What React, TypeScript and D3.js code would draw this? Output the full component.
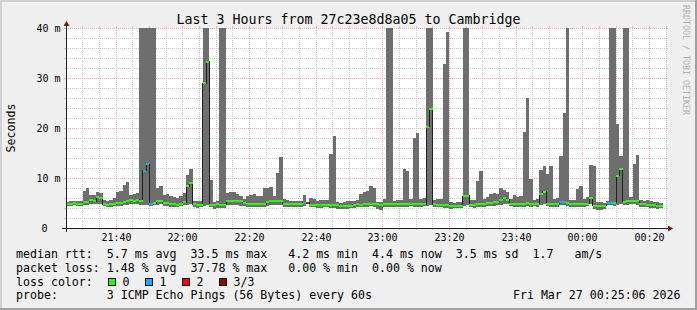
import React from "react";
import * as d3 from "d3";

const titleText = "Last 3 Hours from 27c23e8d8a05 to Cambridge";
const yAxisTitle = "Seconds";
const watermark = "RRDTOOL / TOBI OETIKER";
const startTime = new Date(2026, 2, 26, 21, 25, 6);
const endTime = new Date(2026, 2, 27, 0, 25, 6);
const sampleStepSec = 60;

// median round trip time per minute (ms)
const medianMs = [
  5.0, 5.0, 5.1, 5.0, 5.0, 5.3, 5.4, 5.7, 5.5, 6.3,
  6.2, 4.9, 4.8, 4.9, 4.9, 5.1, 5.2, 5.3, 5.6, 5.7,
  5.6, 5.8, 5.6, 11.6, 12.9, 5.0, 5.1, 5.6, 5.6, 5.1,
  5.1, 4.9, 4.9, 4.8, 4.9, 5.3, 8.5, 9.1, 4.9, 4.8,
  4.8, 29.1, 33.4, 4.8, 4.8, 4.9, 4.8, 4.7, 5.5, 5.6,
  5.6, 5.5, 5.5, 5.2, 5.0, 4.9, 4.9, 5.0, 4.9, 4.9,
  5.4, 5.6, 5.6, 5.6, 5.6, 5.0, 4.9, 4.9, 4.9, 4.9,
  4.9, 5.2, 5.2, 4.8, 4.8, 4.7, 4.7, 4.8, 4.8, 4.7,
  4.8, 4.7, 4.6, 4.6, 4.6, 4.6, 4.8, 4.9, 4.8, 4.9,
  5.0, 5.0, 5.0, 4.9, 4.8, 4.9, 4.9, 4.9, 4.9, 4.9,
  4.9, 4.9, 4.9, 4.9, 4.9, 4.9, 4.9, 4.9, 20.4, 23.9,
  4.9, 4.8, 4.8, 4.7, 4.7, 4.6, 4.6, 4.6, 4.6, 6.5,
  6.6, 4.8, 4.8, 4.9, 4.9, 5.0, 5.1, 5.2, 5.3, 5.4,
  5.8, 6.1, 5.7, 5.0, 5.0, 4.9, 4.9, 5.0, 5.1, 5.0,
  5.0, 5.0, 7.0, 7.4, 5.0, 4.9, 4.9, 5.0, 5.3, 5.3,
  5.1, 4.9, 4.9, 4.9, 5.0, 5.0, 5.0, 6.1, 4.6, 4.6,
  4.6, 4.6, 5.2, 5.2, 5.2, 10.6, 11.9, 5.4, 5.5, 5.6,
  5.6, 5.5, 5.0, 4.9, 4.8, 4.8, 4.7, 4.6, 4.6, NaN,
];

// fastest ping per minute (ms)
const minMs = [
  4.6, 4.6, 4.7, 4.6, 4.5, 4.7, 4.8, 5.0, 4.9, 5.0,
  5.0, 4.5, 4.3, 4.4, 4.5, 4.6, 4.6, 4.7, 4.8, 4.9,
  4.9, 5.0, 4.8, 4.7, 4.8, 4.6, 4.7, 4.8, 4.9, 4.6,
  4.5, 4.4, 4.3, 4.4, 4.5, 4.7, 4.8, 5.0, 4.3, 4.2,
  4.4, 4.6, 4.8, 4.3, 4.0, 4.1, 4.2, 4.2, 4.7, 4.7,
  4.8, 4.7, 4.6, 4.5, 4.4, 4.3, 4.3, 4.4, 4.3, 4.4,
  4.6, 4.7, 4.8, 4.8, 4.8, 4.4, 4.4, 4.3, 4.3, 4.4,
  4.4, 4.6, 5.0, 4.3, 4.3, 4.2, 4.2, 4.3, 4.3, 4.2,
  4.2, 4.0, 3.9, 3.9, 4.0, 4.1, 4.2, 4.3, 4.3, 4.3,
  4.4, 4.5, 4.4, 3.9, 3.8, 4.4, 4.4, 4.4, 4.4, 4.3,
  4.4, 4.4, 4.4, 4.5, 4.4, 4.4, 4.4, 4.5, 4.6, 4.7,
  4.4, 4.3, 4.3, 4.2, 4.1, 4.0, 4.1, 4.1, 4.1, 4.6,
  4.7, 4.3, 4.2, 4.3, 4.4, 4.4, 4.5, 4.6, 4.6, 4.7,
  4.8, 5.0, 4.9, 4.5, 4.4, 4.3, 4.3, 4.4, 4.5, 4.4,
  4.5, 4.4, 4.8, 5.0, 4.5, 4.4, 4.4, 4.4, 4.7, 4.8,
  4.5, 4.3, 4.3, 4.3, 4.4, 4.4, 4.5, 5.0, 4.0, 3.8,
  3.8, 3.9, 4.8, 4.8, 4.6, 4.8, 5.0, 4.8, 4.8, 4.9,
  4.9, 4.8, 4.4, 4.3, 4.3, 4.2, 4.2, 4.0, 4.1, NaN,
];

// slowest ping per minute (ms); 60 = beyond the top of the chart
const maxMs = [
  5.4, 5.5, 5.6, 5.5, 5.6, 7.6, 8.1, 6.7, 6.8, 7.3,
  7.2, 5.8, 5.6, 5.7, 6.2, 7.4, 7.6, 8.8, 9.4, 6.8,
  7.0, 7.2, 60, 60, 60, 60, 60, 8.1, 8.5, 6.8,
  6.9, 6.6, 6.4, 6.2, 6.5, 7.2, 10.8, 11.9, 5.6, 5.5,
  5.6, 60, 60, 9.8, 5.4, 5.5, 60, 60, 7.2, 7.4,
  7.3, 7.0, 6.6, 6.0, 6.5, 6.8, 6.9, 6.5, 6.6, 8.1,
  8.1, 8.4, 6.5, 11.1, 14.3, 6.0, 5.8, 5.6, 5.5, 5.6,
  5.6, 6.7, 5.4, 6.2, 6.0, 5.6, 5.7, 5.8, 5.7, 14.9,
  18.5, 5.4, 5.2, 5.3, 5.6, 5.5, 5.6, 5.7, 7.0, 7.3,
  7.5, 8.5, 8.2, 5.4, 5.3, 5.9, 60, 60, 5.6, 5.8,
  5.7, 11.9, 11.6, 5.9, 18.2, 19.2, 6.0, 6.2, 60, 60,
  5.8, 6.0, 5.9, 33.0, 39.3, 5.3, 5.2, 5.3, 5.4, 60,
  60, 5.8, 5.7, 9.6, 11.5, 5.9, 6.3, 6.9, 7.1, 7.0,
  8.2, 7.7, 7.3, 5.9, 6.7, 6.4, 6.5, 19.3, 26.1, 10.0,
  5.8, 5.9, 11.7, 12.5, 10.9, 12.5, 6.0, 6.2, 14.5, 23.1,
  60, 5.7, 5.8, 8.0, 8.5, 5.9, 6.3, 12.7, 12.5, 5.4,
  5.3, 5.2, 5.6, 60, 60, 21.0, 14.5, 60, 60, 6.3,
  13.0, 14.7, 5.8, 5.6, 5.7, 5.5, 5.4, 5.3, 5.2, NaN,
];

// lost pings (of 3) per minute
const lostPings = [
  0, 0, 0, 0, 0, 0, 0, 0, 0, 0,
  0, 0, 0, 0, 0, 0, 0, 0, 0, 0,
  0, 0, 0, 1, 1, 1, 0, 0, 0, 0,
  0, 0, 0, 0, 0, 0, 0, 0, 0, 0,
  0, 0, 0, 0, 0, 0, 0, 0, 0, 0,
  0, 0, 0, 0, 0, 0, 0, 0, 0, 0,
  0, 0, 0, 0, 0, 0, 0, 0, 0, 0,
  0, 1, 2, 0, 0, 0, 0, 0, 0, 0,
  0, 0, 0, 0, 0, 0, 0, 0, 0, 0,
  0, 0, 0, 0, 0, 0, 0, 0, 0, 0,
  0, 0, 0, 0, 0, 0, 0, 0, 0, 0,
  0, 0, 0, 0, 0, 0, 0, 0, 0, 0,
  0, 0, 0, 0, 0, 0, 0, 0, 0, 0,
  0, 0, 0, 0, 0, 0, 0, 0, 0, 0,
  0, 0, 0, 0, 0, 0, 0, 0, 1, 1,
  0, 0, 0, 0, 0, 0, 0, 0, 0, 0,
  0, 0, 1, 1, 0, 0, 0, 0, 0, 0,
  0, 0, 0, 0, 0, 0, 0, 0, 0, 0,
];

const yTickValues = [0, 10, 20, 30, 40];
const yTickLabels = ["0", "10 m", "20 m", "30 m", "40 m"];
const xTickLabels = ["21:40", "22:00", "22:20", "22:40", "23:00", "23:20", "23:40", "00:00", "00:20"];

const lossLabels = ["0", "1", "2", "3/3"];
const lossColors = ["#26ff00", "#00b8ff", "#ff0000", "#990000"];

const legendRtt = "median rtt:  5.7 ms avg  33.5 ms max   4.2 ms min  4.4 ms now  3.5 ms sd  1.7   am/s";
const legendLoss = "packet loss: 1.48 % avg  37.78 % max   0.00 % min  0.00 % now";
const legendLossColor = "loss color:";
const legendProbe = "probe:       3 ICMP Echo Pings (56 Bytes) every 60s";
const timestamp = "Fri Mar 27 00:25:06 2026";

function tickTime(label: string): Date {
  const [h, m] = label.split(":").map(Number);
  return h < 12 ? new Date(2026, 2, 27, h, m, 0) : new Date(2026, 2, 26, h, m, 0);
}

export default function App() {
  const W = 697, H = 310;
  const X0 = 66, X1 = 666, Y0 = 228, Y1 = 28;
  const mono = "'DejaVu Sans Mono', monospace";
  const x = d3.scaleTime().domain([startTime, endTime]).range([X0, X1]);
  const y = d3.scaleLinear().domain([0, 40]).range([Y0 + 0.5, Y1 + 0.5]);
  const snap = (v: number) => Math.round(v) + 0.5;

  const samples = medianMs
    .map((m, i) => {
      const t0 = new Date(startTime.getTime() + i * sampleStepSec * 1000);
      const t1 = new Date(t0.getTime() + sampleStepSec * 1000);
      return { t0, t1, med: m, lo: minMs[i], hi: maxMs[i], loss: lostPings[i] };
    })
    .filter((d) => Number.isFinite(d.med));

  const minorY = d3.range(2, 41, 2).filter((v) => v % 10 !== 0);
  const majorY = yTickValues.filter((v) => v > 0);
  const majorX = xTickLabels.map(tickTime);
  const minorX = d3
    .timeMinute.every(5)!
    .range(startTime, endTime)
    .filter((t) => t.getMinutes() % 20 !== 0);

  const linePts: [number, number][] = samples.map((d) => [x(d.t0), Math.floor(y(d.med)) + 0.5]);
  const last = samples[samples.length - 1];
  linePts.push([x(last.t1), Math.floor(y(last.med)) + 0.5]);
  const medianLine = d3.line().curve(d3.curveStepAfter)(linePts) || "";

  const gridColor = "#c8c8c8";
  const mgridColor = "#f0a8a8";

  return (
    <svg
      width={W}
      height={H}
      viewBox={`0 0 ${W} ${H}`}
      style={{ position: "absolute", left: 0, top: 0, display: "block" }}
    >
      <defs>
        <clipPath id="plotClip">
          <rect x={X0} y={Y1} width={X1 - X0} height={Y0 - Y1 + 1} />
        </clipPath>
      </defs>
      {/* background and frame */}
      <rect x={0} y={0} width={W} height={H} fill="#f0f0f0" />
      <rect x={0} y={0} width={W} height={2} fill="#d0d0d0" />
      <rect x={0} y={0} width={2} height={H} fill="#d0d0d0" />
      <rect x={0} y={H - 2} width={W} height={2} fill="#a0a0a0" />
      <rect x={W - 2} y={0} width={2} height={H} fill="#a0a0a0" />
      <rect x={X0} y={Y1} width={X1 - X0} height={Y0 - Y1} fill="#ffffff" />

      {/* grid */}
      <g shapeRendering="crispEdges">
        {minorY.map((v) => (
          <g key={"my" + v}>
            <line x1={X0} x2={X1} y1={y(v)} y2={y(v)} stroke={gridColor} strokeDasharray="1 1" />
            <line x1={X0 - 2} x2={X0} y1={y(v)} y2={y(v)} stroke={gridColor} />
            <line x1={X1} x2={X1 + 2} y1={y(v)} y2={y(v)} stroke={gridColor} />
          </g>
        ))}
        {minorX.map((t) => (
          <g key={"mx" + t.getTime()}>
            <line x1={snap(x(t))} x2={snap(x(t))} y1={Y1} y2={Y0} stroke={gridColor} strokeDasharray="1 1" />
            <line x1={snap(x(t))} x2={snap(x(t))} y1={Y0} y2={Y0 + 2} stroke={gridColor} />
            <line x1={snap(x(t))} x2={snap(x(t))} y1={Y1 - 2} y2={Y1} stroke={gridColor} />
          </g>
        ))}
        {majorY.map((v) => (
          <g key={"My" + v}>
            <line x1={X0} x2={X1} y1={y(v)} y2={y(v)} stroke={mgridColor} strokeDasharray="1 1" />
            <line x1={X0 - 2} x2={X0} y1={y(v)} y2={y(v)} stroke={mgridColor} />
            <line x1={X1} x2={X1 + 2} y1={y(v)} y2={y(v)} stroke={mgridColor} />
          </g>
        ))}
        {majorX.map((t) => (
          <g key={"Mx" + t.getTime()}>
            <line x1={snap(x(t))} x2={snap(x(t))} y1={Y1} y2={Y0} stroke={mgridColor} strokeDasharray="1 1" />
            <line x1={snap(x(t))} x2={snap(x(t))} y1={Y0} y2={Y0 + 2} stroke={mgridColor} />
            <line x1={snap(x(t))} x2={snap(x(t))} y1={Y1 - 2} y2={Y1} stroke={mgridColor} />
          </g>
        ))}
      </g>

      {/* data */}
      <g clipPath="url(#plotClip)">
        <g shapeRendering="crispEdges">
          {samples.map((d, i) => (
            <rect
              key={"s" + i}
              x={x(d.t0)}
              width={x(d.t1) - x(d.t0)}
              y={y(Math.min(d.hi, 45))}
              height={y(d.lo) - y(Math.min(d.hi, 45))}
              fill="#6e6e6e"
            />
          ))}
        </g>
        <path d={medianLine} fill="none" stroke="#202020" strokeWidth={1} shapeRendering="crispEdges" />
        <g shapeRendering="crispEdges">
          {samples.map((d, i) => (
            <rect
              key={"m" + i}
              x={x(d.t0)}
              width={x(d.t1) - x(d.t0)}
              y={y(d.med) - 1}
              height={2}
              fill={lossColors[d.loss]}
            />
          ))}
        </g>
      </g>

      {/* axes */}
      <g shapeRendering="crispEdges">
        <line x1={X0 - 4} x2={X1 + 4} y1={Y0 + 0.5} y2={Y0 + 0.5} stroke="#202020" />
        <line x1={X0 + 0.5} x2={X0 + 0.5} y1={Y0 + 4} y2={Y1 - 4} stroke="#202020" />
      </g>
      <path d={`M${X1 + 2},${Y0 - 2.5} L${X1 + 2},${Y0 + 3.5} L${X1 + 7},${Y0 + 0.5} Z`} fill="#801010" />
      <path d={`M${X0 - 2.5},${Y1 - 2} L${X0 + 3.5},${Y1 - 2} L${X0 + 0.5},${Y1 - 7} Z`} fill="#801010" />

      {/* tick labels */}
      <g fontFamily={mono} fontSize={10} fill="#000">
        {yTickValues.map((v, i) => (
          <text key={"yl" + v} x={yTickLabels[i].includes("m") ? 60.5 : 47.5} y={y(v) + 3.8} textAnchor="end">
            {yTickLabels[i]}
          </text>
        ))}
        {majorX.map((t, i) => (
          <text key={"xl" + i} x={snap(x(t))} y={241} textAnchor="middle">
            {xTickLabels[i]}
          </text>
        ))}
      </g>

      {/* titles */}
      <text x={W / 2} y={23.5} textAnchor="middle" fontFamily={mono} fontSize={13.3} fill="#000">
        {titleText}
      </text>
      <text
        transform={`translate(15,128) rotate(-90)`}
        textAnchor="middle"
        fontFamily={mono}
        fontSize={11.6}
        fill="#000"
      >
        {yAxisTitle}
      </text>
      <text transform={`translate(683,5) rotate(90)`} fontFamily={mono} fontSize={8.3} fill="#b0b0b0">
        {watermark}
      </text>

      {/* legend */}
      <g fontFamily={mono} fontSize={11.6} fill="#000" style={{ whiteSpace: "pre" }}>
        <text x={16} y={258} xmlSpace="preserve">{legendRtt}</text>
        <text x={16} y={271.8} xmlSpace="preserve">{legendLoss}</text>
        <text x={16} y={285.6} xmlSpace="preserve">{legendLossColor}</text>
        {lossLabels.map((lbl, i) => (
          <g key={"ll" + i}>
            <rect x={108.5 + i * 37} y={278.5} width={7} height={7} fill={lossColors[i]} stroke="#000" strokeWidth={1} shapeRendering="crispEdges" />
            <text x={122.5 + i * 37} y={285.6}>{lbl}</text>
          </g>
        ))}
        <text x={16} y={299.4} xmlSpace="preserve">{legendProbe}</text>
        <text x={680.5} y={299.4} textAnchor="end">{timestamp}</text>
      </g>
    </svg>
  );
}
